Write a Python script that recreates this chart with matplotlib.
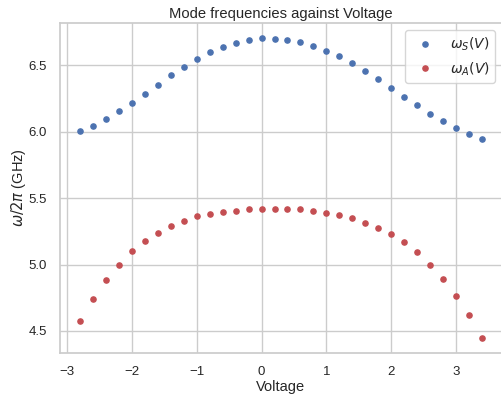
import numpy as np
import matplotlib
matplotlib.use('Agg')
import matplotlib.pyplot as plt
import seaborn as sns

sns.set_theme(style='whitegrid', color_codes=True)
plt.rcParams['font.family'] = ['Liberation Sans', 'DejaVu Sans']

voltage = np.round(np.arange(-2.8, 3.41, 0.2), 1)
omega_s = [6.008, 6.047, 6.100, 6.160, 6.220, 6.287, 6.355, 6.428, 6.490, 6.547,
           6.598, 6.638, 6.670, 6.690, 6.705, 6.703, 6.690, 6.675, 6.650, 6.610,
           6.570, 6.515, 6.455, 6.395, 6.328, 6.260, 6.200, 6.133, 6.080, 6.028,
           5.987, 5.947]
omega_a = [4.578, 4.737, 4.880, 5.000, 5.100, 5.175, 5.240, 5.287, 5.328, 5.363,
           5.380, 5.395, 5.407, 5.415, 5.422, 5.422, 5.422, 5.415, 5.403, 5.390,
           5.370, 5.350, 5.315, 5.275, 5.230, 5.167, 5.095, 5.000, 4.892, 4.765,
           4.617, 4.450]

fig = plt.figure(figsize=(5.02, 4.03), dpi=100)
ax = fig.add_axes([60 / 502, 1 - 352.5 / 403, 1 - 60 / 502, (352.5 - 23.3) / 403])

ax.plot(voltage, omega_s, 'b.', ms=7.5, label=r'$\omega_S(V)$')
ax.plot(voltage, omega_a, 'r.', ms=7.5, label=r'$\omega_A(V)$')

ax.set_title('Mode frequencies against Voltage', fontsize=10.6, pad=4)
ax.set_xlabel('Voltage', fontsize=10.5, labelpad=1.5)
ax.set_ylabel(r'$\omega/2\pi$ (GHz)', fontsize=10.5, labelpad=0)
ax.set_yticks([4.5, 5.0, 5.5, 6.0, 6.5])
ax.tick_params(labelsize=9.5)
ax.legend(loc='upper right', fontsize=10)

fig.savefig('out.png', dpi=100)
